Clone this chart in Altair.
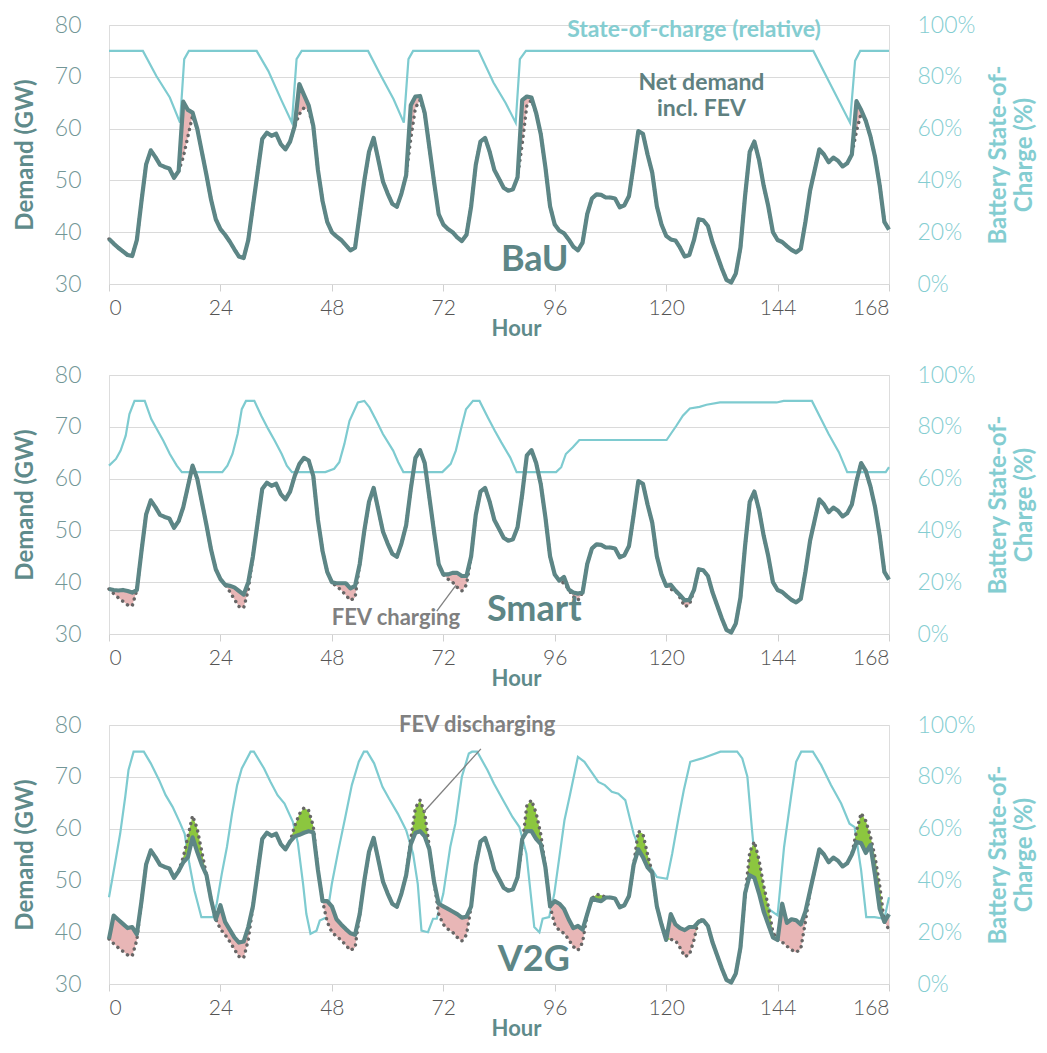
import altair as alt
import pandas as pd

# ---------------- data ----------------
hours = list(range(169))

# demand without FEV (GW), hourly 0..168 (dotted line)
base_demand = [
    38.7, 37.8, 37.0, 36.3, 35.6, 35.4, 38.5, 46.0, 53.1, 55.8,   # 0-9
    54.5, 53.0, 52.6, 52.3, 50.5, 51.8, 54.5, 58.5, 62.5, 60.0,   # 10-19
    55.5, 51.0, 46.2, 42.5, 40.6, 39.5, 38.2, 36.7, 35.3, 35.0,   # 20-29
    38.5, 45.0, 51.5, 58.0, 59.2, 58.6, 59.0, 57.0, 56.0, 57.5,   # 30-39
    60.5, 62.8, 64.0, 63.5, 60.5, 52.0, 46.0, 42.0, 40.0, 39.2,   # 40-49
    38.5, 37.5, 36.5, 37.0, 43.5, 50.0, 55.5, 58.2, 54.0, 49.8,   # 50-59
    47.5, 45.5, 44.9, 47.5, 51.0, 58.0, 64.0, 65.5, 63.0, 56.4,   # 60-69
    49.8, 43.5, 41.5, 40.6, 40.0, 39.0, 38.3, 39.5, 45.0, 53.0,   # 70-79
    57.5, 58.2, 55.5, 52.0, 50.3, 48.6, 48.0, 48.3, 50.6, 57.0,   # 80-89
    64.5, 65.5, 63.0, 58.9, 52.5, 45.0, 41.5, 40.3, 39.8, 38.6,   # 90-99
    37.2, 36.5, 38.0, 43.5, 46.5, 47.3, 47.2, 46.7, 46.7, 46.5,   # 100-109
    44.8, 45.2, 47.0, 53.0, 59.5, 59.0, 55.0, 51.5, 45.0, 41.5,   # 110-119
    39.3, 38.6, 38.4, 37.0, 35.3, 35.6, 38.5, 42.5, 42.3, 41.2,   # 120-129
    38.0, 35.5, 33.0, 30.8, 30.3, 32.0, 37.0, 47.0, 55.5, 57.5,   # 130-139
    54.0, 49.0, 45.0, 40.0, 38.5, 38.1, 37.3, 36.6, 36.1, 36.8,   # 140-149
    42.0, 48.0, 52.0, 56.0, 55.0, 53.5, 54.4, 53.8, 52.7, 53.3,   # 150-159
    55.0, 59.5, 63.0, 61.5, 58.5, 54.5, 49.0, 42.0, 40.5,         # 160-168
]

# net demand incl. FEV where it differs from the base demand (hour: GW)
bau_net_changes = {16: 65.2, 17: 63.6, 18: 63.1,
                   41: 68.6, 42: 66.5, 43: 64.5,
                   65: 64.5, 66: 66.2, 67: 66.3,
                   89: 65.5, 90: 66.2, 91: 66.0,
                   161: 65.3, 162: 63.6}

smart_net_changes = {1: 38.5, 2: 38.4, 3: 38.5, 4: 38.3, 5: 38.0,
                     26: 39.3, 27: 39.0, 28: 38.3, 29: 37.6, 30: 40.0,
                     49: 39.8, 50: 39.8, 51: 39.8, 52: 38.8, 53: 39.3,
                     73: 41.5, 74: 41.8, 75: 41.8, 76: 41.2, 77: 41.2,
                     98: 41.0, 100: 38.0, 101: 37.8,
                     121: 39.5, 123: 37.5, 124: 36.5, 125: 36.6}

v2g_net_changes = {1: 43.2, 2: 42.4, 3: 41.6, 4: 40.8, 5: 41.0, 6: 39.6,
                   16: 53.5, 17: 54.5, 18: 58.3, 19: 55.5, 20: 53.0,
                   24: 45.2, 25: 42.0, 26: 40.5, 27: 39.0, 28: 38.0, 29: 38.2, 30: 41.0,
                   40: 58.5, 41: 58.8, 42: 59.2, 43: 59.5, 44: 59.3,
                   47: 46.0, 48: 45.0, 49: 42.5, 50: 41.5, 51: 40.6, 52: 39.8, 53: 39.5,
                   65: 57.0, 66: 59.2, 67: 59.5, 68: 58.5, 69: 56.0,
                   71: 45.5, 72: 45.0, 73: 44.5, 74: 44.0, 75: 43.5, 76: 42.8, 77: 43.0,
                   89: 58.0, 90: 59.5, 91: 59.5, 92: 58.0, 93: 57.0,
                   96: 46.0, 97: 45.5, 98: 44.5, 99: 42.5, 100: 40.8, 101: 41.2, 102: 40.5,
                   105: 46.2, 106: 46.0,
                   114: 56.0, 115: 54.5, 116: 52.5,
                   120: 38.5, 121: 43.5, 122: 41.5, 123: 40.8, 124: 40.4, 125: 41.0,
                   126: 41.0, 127: 42.0,
                   137: 47.5, 138: 51.0, 139: 50.5, 140: 47.5, 141: 44.0, 142: 41.5, 143: 39.0,
                   145: 45.5, 146: 41.8, 147: 42.5, 148: 42.3, 149: 41.5, 150: 44.0,
                   161: 57.4, 162: 57.2, 163: 55.3, 164: 56.8, 165: 51.0, 166: 44.5, 168: 43.5}

# battery state-of-charge (%)
bau_soc_hours = [0, 7.3, 10.2, 13.1, 15.3, 16.2, 17.2, 31.8, 34.3, 37.2, 39.4, 40.4, 41.5,
                 55.8, 58.4, 61.3, 63.5, 64.5, 65.5, 79.6, 82.8, 85.4, 87.6, 88.5, 89.8,
                 151.7, 159.6, 160.7, 161.8, 168]
bau_soc = [90, 90, 80.3, 72, 62.3, 86.8, 90, 90, 82.3, 70.7, 62.3, 86.8, 90,
           90, 81, 71.3, 62.3, 86.8, 90, 90, 77.8, 70, 62.3, 86.8, 90,
           90, 62.3, 86.2, 90, 90]

smart_soc_hours = [0, 1.5, 2.5, 3.6, 4.4, 5.5, 7.7, 9.1, 10.5, 11.7, 13.1, 14.6, 15.7, 24.4,
                   25.5, 26.6, 27.7, 28.6, 29.5, 31.3, 32.8, 34.3, 35.7, 37.2, 38.3, 39.4,
                   46.6, 48.5, 49.6, 50.7, 51.8, 53.6, 55, 56.1, 57.6, 59, 61.2, 62.3, 63.4,
                   71.8, 73.6, 74.7, 75.8, 76.9, 78.4, 79.8, 81.6, 83.1, 84.5, 86.4, 87.8,
                   96.3, 97.4, 98.4, 99.9, 101.3, 120.1, 122.2, 123.6, 125.1, 127.2, 128.7,
                   131.6, 143.8, 145.3, 151.4, 153.2, 155, 157.2, 159, 167.3, 168]
smart_soc = [65, 67.6, 70.8, 76.6, 84.9, 90, 90, 83, 78.5, 74.6, 69.5, 65, 62.5, 62.5,
             65, 69.5, 77.2, 86.8, 90, 90, 84.3, 79.1, 74.6, 69.5, 65, 62.5,
             62.5, 63.8, 66.3, 73.4, 82.3, 89.4, 90, 87.5, 82.3, 77.2, 70.8, 66.3, 62.5,
             62.5, 65.7, 70.8, 79.1, 86.8, 90, 90, 83.6, 78.5, 74, 68.2, 62.5,
             62.5, 64.4, 69.5, 72.1, 74.9, 74.9, 80.4, 84.3, 87.1, 87.7, 88.5,
             89.4, 89.4, 90, 90, 83.6, 77.2, 70.2, 62.5, 62.5, 64.4]

v2g_soc_hours = [0, 1.3, 2.4, 3.5, 4.2, 5.3, 7.5, 9, 10.8, 12.2, 13.7, 15.2, 16.3, 17.3, 18.4,
                 19.9, 22.4, 23.2, 24.3, 25.4, 26.5, 27.6, 28.6, 30.5, 31.2, 33.4, 34.8,
                 36.3, 37.8, 39.6, 40.7, 41.8, 42.5, 43.4, 44.7, 45.4, 46.9, 48, 49.4,
                 50.9, 52.3, 53.8, 54.9, 55.6, 57.1, 58.9, 60.3, 62.2, 64, 65.5, 66.5,
                 67.3, 68.7, 69.8, 70.6, 72, 73.5, 74.6, 76, 77.5, 78.2, 79.3, 81.5, 82.9,
                 85.1, 86.9, 88.4, 89.9, 91.6, 92.7, 93.4, 94.8, 95.9, 98.1, 99.2, 101,
                 102.4, 103.9, 105.4, 106.8, 108.3, 109.7, 111.2, 113, 114.4, 116.2, 118,
                 120.2, 121.3, 122.7, 123.8, 125.2, 127.7, 131.7, 135.3, 136.4, 137.5,
                 138.5, 139.6, 140.7, 142.5, 144, 145.4, 146.9, 148, 149.1, 151.6, 153.4,
                 155.5, 157.7, 159.5, 160.6, 162, 163.1, 164.9, 167, 168]
v2g_soc = [33.5, 46.5, 58, 72.3, 82.6, 89.7, 89.7, 85.2, 78.7, 72.9, 68.4, 62.6, 58, 46.5, 36.1,
           25.8, 25.8, 31, 42.6, 52.9, 65.8, 76.8, 83.2, 89.7, 89.7, 83.2, 78,
           72.9, 69.7, 62.6, 54.2, 38.7, 27.1, 19.4, 20.6, 24.5, 25.8, 38.7, 51.6,
           64.5, 76.8, 85.8, 89.7, 89.7, 85.2, 76.1, 71.6, 65.8, 59.4, 50.3, 38.7,
           20.6, 20, 25.2, 25.2, 34.8, 52.9, 61.9, 80, 89, 89.7, 89.7, 82.6, 77.4,
           70.3, 64.5, 60.6, 50.3, 22, 20, 25.2, 25.8, 34.8, 63.2, 72.3, 87.7,
           85.8, 81.9, 78, 76.8, 74.2, 73.5, 71, 58, 51.6, 46.5, 41.3,
           40.6, 50.3, 64.5, 74.8, 85.8, 87.1, 89.7, 89.7, 87.1, 80,
           59.4, 38.7, 32.3, 28.4, 26.5, 52.9, 72.3, 85.8, 89.7, 89.7, 84.5,
           76.8, 69.7, 61.9, 60.6, 43.9, 25.8, 25.8, 25.2, 33.5]

x_ticks = [0, 24, 48, 72, 96, 120, 144, 168]
gw_ticks = [30, 40, 50, 60, 70, 80]
soc_ticks = [0, 20, 40, 60, 80, 100]

# ---------------- style ----------------
NET = "#5d8686"
SOC = "#7ecbd0"
PINK = "#e8b6b6"
GREEN = "#8cc63f"
DOT = "#666666"
TITLE_TEAL = "#5f8b8b"
LABEL_TEAL = "#729696"
CYAN_TEXT = "#84cdd1"
FONT = "Lato"

W, H = 780, 259

xscale = alt.Scale(domain=[0, 168], nice=False, zero=False)
yscale = alt.Scale(domain=[30, 80], nice=False, zero=False)
sscale = alt.Scale(domain=[0, 100], nice=False)

x_axis = alt.Axis(values=x_ticks, grid=False, domain=True, domainColor="#d9d9d9",
                  ticks=True, tickColor="#d0d0d0", tickSize=7, labelFontSize=21,
                  labelColor="#555555", labelPadding=6, labelFont=FONT, labelFontWeight=300,
                  title="Hour", titleFontSize=22, titleColor=TITLE_TEAL,
                  titleFontWeight="bold", titleFont=FONT, titlePadding=0, titleX=407)
left_axis = alt.Axis(values=gw_ticks, grid=True, gridColor="#dadada", gridWidth=1.2,
                     domain=False, ticks=False, labelPadding=28, labelFontSize=23,
                     labelColor=LABEL_TEAL, labelFont=FONT, labelFontWeight=300,
                     title="Demand (GW)", titleFontSize=24, titleColor=TITLE_TEAL,
                     titleFontWeight="bold", titleFont=FONT, titlePadding=17, orient="left")
right_axis = alt.Axis(values=soc_ticks, grid=False, domain=False, ticks=False,
                      labelExpr="datum.value + '%'", labelPadding=28, labelFontSize=23,
                      labelColor=CYAN_TEXT, labelFont=FONT, labelFontWeight=300,
                      title=["Battery State-of-", "Charge (%)"], titleFontSize=24,
                      titleColor=CYAN_TEXT, titleFontWeight="bold", titleFont=FONT,
                      titleAngle=270, titlePadding=10, orient="right")


def demand_frame(changes):
    net = [changes.get(h, b) for h, b in zip(hours, base_demand)]
    return pd.DataFrame({"hour": hours, "base": base_demand, "net": net})


def X():
    return alt.X("hour:Q", scale=xscale, axis=x_axis)


def panel(changes, soc_h, soc_v, label, texts, rules):
    df = demand_frame(changes)
    src = alt.Chart(df)
    pink = src.transform_calculate(hi="max(datum.net, datum.base)").mark_area(
        color=PINK, opacity=1, interpolate="linear").encode(
        x=X(), y=alt.Y("base:Q", scale=yscale, axis=left_axis), y2="hi:Q")
    green = src.transform_calculate(lo="min(datum.net, datum.base)").mark_area(
        color=GREEN, opacity=1, interpolate="linear").encode(
        x=X(), y=alt.Y("lo:Q", scale=yscale, axis=left_axis), y2="base:Q")
    dotted = src.mark_line(color=DOT, strokeWidth=3.4, strokeDash=[0.1, 6],
                           strokeCap="round").encode(
        x=X(), y=alt.Y("base:Q", scale=yscale, axis=left_axis))
    net = src.mark_line(color=NET, strokeWidth=4.2, strokeJoin="round").encode(
        x=X(), y=alt.Y("net:Q", scale=yscale, axis=left_axis))

    lab = alt.Chart(pd.DataFrame({"hour": [label[1]], "gw": [label[2]], "t": [label[0]]})).mark_text(
        font=FONT, fontSize=36, fontWeight="bold", color=NET, align="center", baseline="middle").encode(
        x=X(), y=alt.Y("gw:Q", scale=yscale, axis=left_axis), text="t:N")

    layers = [pink, green, dotted, net, lab]
    for (txt, hx, gy, color, size) in texts:
        layers.append(alt.Chart(pd.DataFrame({"hour": [hx], "gw": [gy], "t": [txt]})).mark_text(
            font=FONT, fontSize=size, fontWeight="bold", color=color, align="center",
            baseline="middle").encode(
            x=X(), y=alt.Y("gw:Q", scale=yscale, axis=left_axis), text="t:N"))
    for (h1, g1, h2, g2) in rules:
        layers.append(alt.Chart(pd.DataFrame({"hour": [h1], "gw": [g1], "h2": [h2], "g2": [g2]})).mark_rule(
            color="#808080", strokeWidth=1.3).encode(
            x=X(), y=alt.Y("gw:Q", scale=yscale, axis=left_axis), x2="h2:Q", y2="g2:Q"))

    demand = alt.layer(*layers)
    soc = alt.Chart(pd.DataFrame({"hour": soc_h, "soc": soc_v})).mark_line(
        color=SOC, strokeWidth=2.2).encode(
        x=X(), y=alt.Y("soc:Q", scale=sscale, axis=right_axis))
    return alt.layer(soc, demand).resolve_scale(y="independent").properties(width=W, height=H)


p1 = panel(bau_net_changes, bau_soc_hours, bau_soc, ("BaU", 91.7, 34.7),
           [("State-of-charge (relative)", 126.0, 79.0, CYAN_TEXT, 23),
            ("Net demand", 127.6, 68.8, "#5f8080", 23),
            ("incl. FEV", 127.6, 63.8, "#5f8080", 23)], [])
p2 = panel(smart_net_changes, smart_soc_hours, smart_soc, ("Smart", 91.6, 34.6),
           [("FEV charging", 61.8, 33.1, "#808080", 22)],
           [(70.6, 34.4, 74.7, 39.4)])
p3 = panel(v2g_net_changes, v2g_soc_hours, v2g_soc, ("V2G", 91.5, 34.6),
           [("FEV discharging", 79.3, 80.0, "#808080", 22)],
           [(80.1, 75.4, 67.8, 63.2)])

chart = alt.vconcat(p1, p2, p3, spacing=23).properties(
    padding={"left": 4, "top": 5, "right": 0, "bottom": 0}
).configure_view(stroke=None).configure(font=FONT)

chart.save("out.html", embed_options={"renderer": "svg", "actions": False})
